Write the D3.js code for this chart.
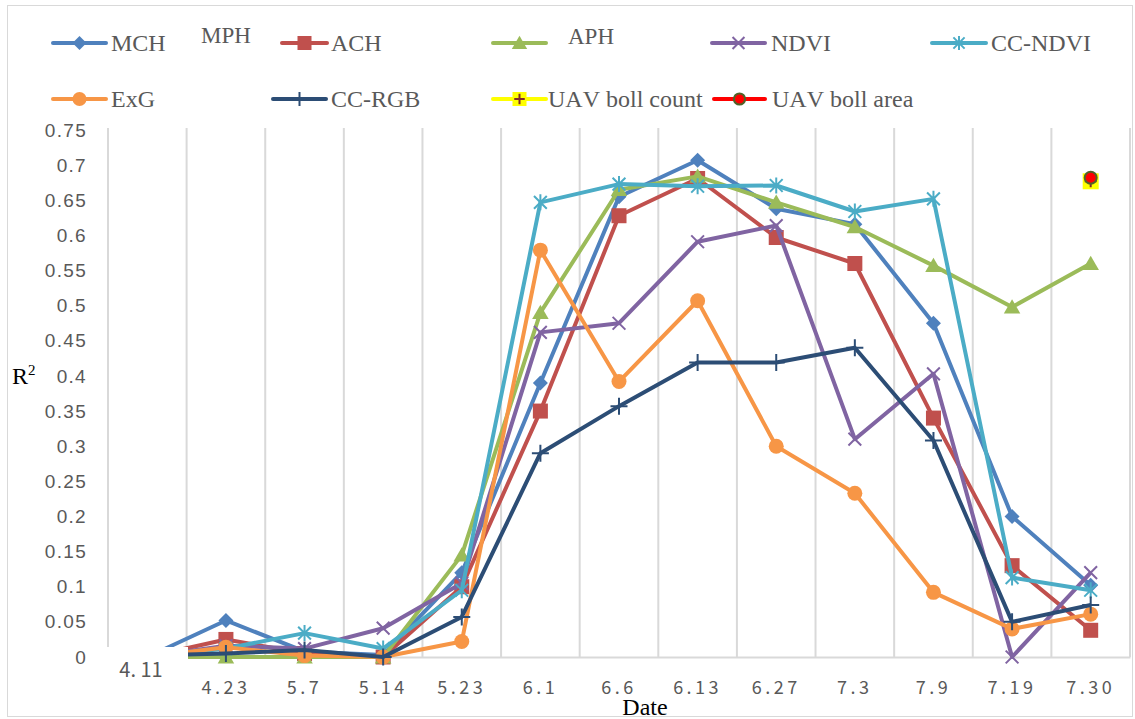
<!DOCTYPE html>
<html>
<head>
<meta charset="utf-8">
<script src="https://cdn.jsdelivr.net/npm/d3@7"></script>
<style>
  body { margin: 0; background: #fff; }
  svg text { font-kerning: none; }
</style>
</head>
<body>
<svg id="chart" width="1135" height="719"></svg>
<script>
// Sampling dates (first one is labelled separately as "4. 11")
const categories = ["4.11", "4.23", "5.7", "5.14", "5.23", "6.1", "6.6", "6.13", "6.27", "7.3", "7.9", "7.19", "7.30"];
const firstDateLabel = "4. 11";
const yTicks = [0, 0.05, 0.1, 0.15, 0.2, 0.25, 0.3, 0.35, 0.4, 0.45, 0.5, 0.55, 0.6, 0.65, 0.7, 0.75];

// R² of each indicator per date
const mch    = [0, 0.052, 0.008, 0.003, 0.12, 0.39, 0.655, 0.707, 0.638, 0.616, 0.475, 0.2, 0.102];
const ach    = [0, 0.025, 0.005, 0, 0.1, 0.35, 0.628, 0.681, 0.597, 0.56, 0.34, 0.13, 0.038];
const aph    = [0, 0, 0, 0, 0.145, 0.49, 0.665, 0.684, 0.647, 0.612, 0.557, 0.498, 0.56];
const ndvi   = [0, 0.016, 0.012, 0.041, 0.105, 0.462, 0.475, 0.591, 0.614, 0.31, 0.403, 0, 0.12];
const ccNdvi = [0, 0.012, 0.034, 0.012, 0.095, 0.647, 0.673, 0.67, 0.671, 0.634, 0.652, 0.113, 0.095];
const exg    = [0, 0.014, 0.002, 0, 0.022, 0.579, 0.392, 0.507, 0.3, 0.233, 0.092, 0.04, 0.061];
const ccRgb  = [0.002, 0.005, 0.01, 0, 0.057, 0.29, 0.357, 0.419, 0.419, 0.44, 0.308, 0.05, 0.074];
const bollCount = [null, null, null, null, null, null, null, null, null, null, null, null, 0.677];
const bollArea  = [null, null, null, null, null, null, null, null, null, null, null, null, 0.682];

const series = [
  { name: "MCH",            values: mch,       color: "#4F81BD", marker: "diamond" },
  { name: "ACH",            values: ach,       color: "#C0504D", marker: "square" },
  { name: "",               values: aph,       color: "#9BBB59", marker: "triangle" },
  { name: "NDVI",           values: ndvi,      color: "#8064A2", marker: "x" },
  { name: "CC-NDVI",        values: ccNdvi,    color: "#4BACC6", marker: "star" },
  { name: "ExG",            values: exg,       color: "#F79646", marker: "circle" },
  { name: "CC-RGB",         values: ccRgb,     color: "#2C4D75", marker: "plus" },
  { name: "UAV boll count", values: bollCount, color: "#FFFF00", marker: "boxplus" },
  { name: "UAV boll area",  values: bollArea,  color: "#FF0000", marker: "dot" }
];

// legend layout: [line start, line end, text x, row]
const legendSlots = [
  [53, 106, 111, 0], [282, 327, 331, 0], [493, 546, 0, 0], [712, 765, 771, 0], [932, 986, 991, 0],
  [53, 106, 111, 1], [273, 326, 331, 1], [493, 546, 548, 1], [714, 765, 772, 1]
];

const svg = d3.select("#chart");
const W = 1135, H = 719;

svg.append("rect").attr("width", W).attr("height", H).attr("fill", "#fff");
svg.append("rect")
  .attr("x", 7.5).attr("y", 5.5).attr("width", 1125).attr("height", 711)
  .attr("fill", "#fff").attr("stroke", "#D9D9D9").attr("stroke-width", 1);

const plot = { left: 108, right: 1130, top: 130, bottom: 657 };
const x = d3.scaleBand().domain(categories).range([plot.left, plot.right]).padding(0);
const y = d3.scaleLinear().domain([0, 0.75]).range([plot.bottom, plot.top]);
const cx = i => x(categories[i]) + x.bandwidth() / 2;

// vertical gridlines at category boundaries
const bounds = categories.map(c => x(c)).concat([x.range()[1]]);
svg.append("g").selectAll("line").data(bounds).join("line")
  .attr("x1", d => d).attr("x2", d => d)
  .attr("y1", y(0.75) - 2).attr("y2", y(0))
  .attr("stroke", "#D9D9D9").attr("stroke-width", 2);

// category axis
const xAxis = svg.append("g")
  .attr("transform", `translate(0,${y(0)})`)
  .call(d3.axisBottom(x).tickValues(categories.slice(1)).tickSize(0).tickPadding(0));
xAxis.select(".domain").attr("stroke", "#D9D9D9").attr("stroke-width", 2);
xAxis.selectAll("text")
  .attr("y", 37).attr("dy", 0)
  .attr("fill", "#595959")
  .style("font-family", "'Noto Sans CJK SC', 'Noto Sans', sans-serif")
  .style("font-size", "18px")
  .style("letter-spacing", "3.5px");

// value axis
const yAxis = svg.append("g")
  .attr("transform", `translate(${plot.left},0)`)
  .call(d3.axisLeft(y).tickValues(yTicks).tickSize(0).tickPadding(21)
    .tickFormat(d => String(+d.toFixed(2))));
yAxis.select(".domain").remove();
yAxis.selectAll("text")
  .attr("fill", "#595959")
  .style("font-family", "'Liberation Sans', Arial, sans-serif")
  .style("font-size", "19px")
  .style("letter-spacing", "1.3px");

// marker shapes
function drawMarker(g, type, color, s) {
  const r = s / 2;
  if (type === "diamond") {
    g.append("path").attr("d", `M0,${-r}L${r},0L0,${r}L${-r},0Z`).attr("fill", color);
  } else if (type === "square") {
    g.append("rect").attr("x", -r).attr("y", -r).attr("width", s).attr("height", s).attr("fill", color);
  } else if (type === "triangle") {
    g.append("path").attr("d", `M0,${-r * 1.05}L${r * 1.1},${r * 0.85}L${-r * 1.1},${r * 0.85}Z`).attr("fill", color);
  } else if (type === "circle") {
    g.append("circle").attr("r", r).attr("fill", color);
  } else if (type === "x") {
    const a = r * 0.85;
    g.append("path").attr("d", `M${-a},${-a}L${a},${a}M${-a},${a}L${a},${-a}`)
      .attr("stroke", color).attr("stroke-width", 2).attr("fill", "none");
  } else if (type === "star") {
    const a = r * 0.8;
    g.append("path").attr("d", `M${-a},${-a}L${a},${a}M${-a},${a}L${a},${-a}M0,${-r}L0,${r}`)
      .attr("stroke", color).attr("stroke-width", 2).attr("fill", "none");
  } else if (type === "plus") {
    g.append("path").attr("d", `M${-r},0L${r},0M0,${-r}L0,${r}`)
      .attr("stroke", color).attr("stroke-width", 2).attr("fill", "none");
  } else if (type === "boxplus") {
    g.append("rect").attr("x", -r).attr("y", -r).attr("width", s).attr("height", s).attr("fill", "#FFFF00");
    const a = r * 0.75;
    g.append("path").attr("d", `M${-a},0L${a},0M0,${-a}L0,${a}`)
      .attr("stroke", "#7F2A2A").attr("stroke-width", 2).attr("fill", "none");
  } else if (type === "dot") {
    g.append("circle").attr("r", r * 0.8).attr("fill", "#FF0000")
      .attr("stroke", "#4F6228").attr("stroke-width", 2);
  }
}

const markerSize = { diamond: 15, square: 15, triangle: 15, circle: 15, x: 15, star: 16, plus: 17, boxplus: 16, dot: 15 };

const line = d3.line()
  .defined(d => d.v != null)
  .x(d => cx(d.i))
  .y(d => y(d.v));

const seriesG = svg.append("g");
series.forEach(s => {
  const pts = s.values.map((v, i) => ({ v, i }));
  const g = seriesG.append("g");
  g.append("path").datum(pts)
    .attr("d", line)
    .attr("fill", "none").attr("stroke", s.color)
    .attr("stroke-width", 4).attr("stroke-linejoin", "round");
  pts.filter(d => d.v != null).forEach(d => {
    const m = g.append("g").attr("transform", `translate(${cx(d.i)},${y(d.v)})`);
    drawMarker(m, s.marker, s.color, markerSize[s.marker]);
  });
});

// first date label sits on its own white box
svg.append("rect").attr("x", 100).attr("y", 647).attr("width", 88).attr("height", 55).attr("fill", "#fff");
svg.append("text").attr("x", 141).attr("y", 677).attr("text-anchor", "middle")
  .attr("fill", "#595959")
  .style("font-family", "'Noto Sans CJK SC', 'Noto Sans', sans-serif")
  .style("font-size", "20px")
  .text(firstDateLabel);

// legend
const legendRows = [43, 99];
const legend = svg.append("g");
series.forEach((s, k) => {
  const [x1, x2, tx, row] = legendSlots[k];
  const ly = legendRows[row];
  const g = legend.append("g");
  g.append("line").attr("x1", x1).attr("x2", x2).attr("y1", ly).attr("y2", ly)
    .attr("stroke", s.color).attr("stroke-width", 4).attr("stroke-linecap", "round");
  const m = g.append("g").attr("transform", `translate(${(x1 + x2) / 2},${ly})`);
  drawMarker(m, s.marker, s.color, 14);
  if (s.name) {
    g.append("text").attr("x", tx).attr("y", ly + 8)
      .attr("fill", "#595959")
      .style("font-family", "'Liberation Serif', 'Times New Roman', serif")
      .style("font-size", "24px")
      .text(s.name);
  }
});

// free-standing legend captions
const serifText = (t, xPos, yPos, size, color) => svg.append("text")
  .attr("x", xPos).attr("y", yPos).attr("fill", color)
  .style("font-family", "'Liberation Serif', 'Times New Roman', serif")
  .style("font-size", size + "px").text(t);
serifText("MPH", 201, 43, 23, "#595959");
serifText("APH", 568, 44, 23, "#595959");

// axis titles
const rLabel = svg.append("text").attr("x", 12).attr("y", 384).attr("fill", "#000")
  .style("font-family", "'Liberation Serif', 'Times New Roman', serif")
  .style("font-size", "24px");
rLabel.append("tspan").text("R");
rLabel.append("tspan").attr("dy", -9).style("font-size", "15px").text("2");

svg.append("text").attr("x", 645).attr("y", 715).attr("text-anchor", "middle").attr("fill", "#000")
  .style("font-family", "'Liberation Serif', 'Times New Roman', serif")
  .style("font-size", "24px")
  .text("Date");
</script>
</body>
</html>
